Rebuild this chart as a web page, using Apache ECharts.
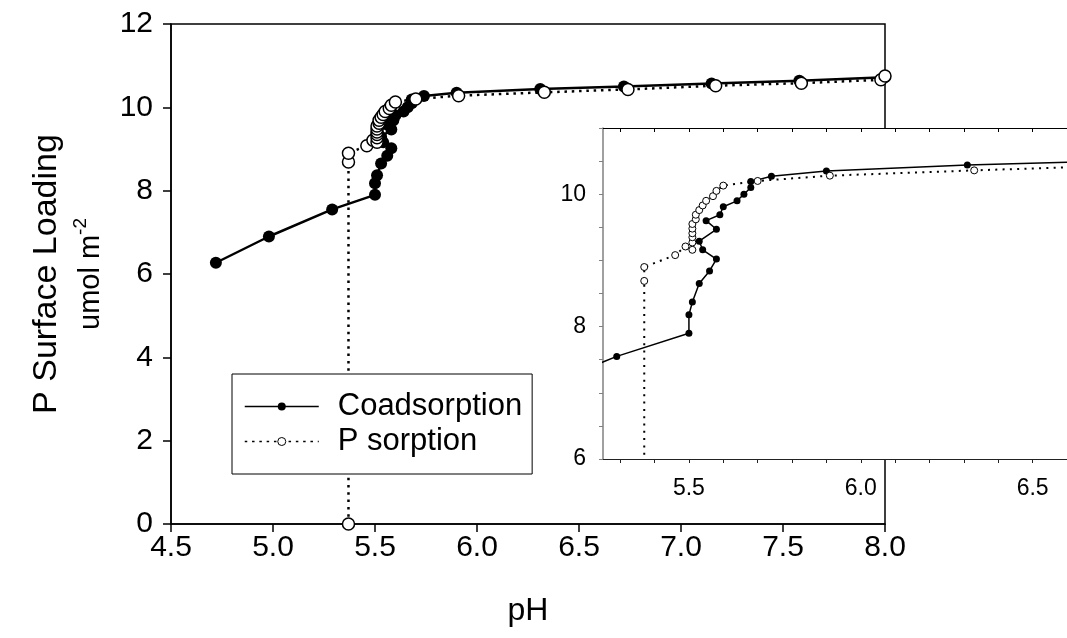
<!DOCTYPE html>
<html>
<head>
<meta charset="utf-8">
<script src="https://cdn.jsdelivr.net/npm/echarts@6/dist/echarts.min.js"></script>
<style>html,body{margin:0;padding:0;background:#fff;}#c{width:1067px;height:638px;}</style>
</head>
<body>
<div id="c"></div>
<script>
// Coadsorption (filled circles, solid line)
const coPH = [4.72, 4.98, 5.29, 5.50, 5.50, 5.51, 5.53, 5.56, 5.58, 5.54, 5.53, 5.58, 5.55, 5.59, 5.60, 5.64, 5.66, 5.68, 5.68, 5.74, 5.90, 6.31, 6.72, 7.15, 7.58, 8.00];
const coLoad = [6.27, 6.90, 7.55, 7.90, 8.18, 8.37, 8.65, 8.84, 9.02, 9.16, 9.29, 9.47, 9.60, 9.69, 9.81, 9.90, 10.00, 10.10, 10.19, 10.27, 10.35, 10.44, 10.50, 10.57, 10.64, 10.72];
// P sorption (open circles, dotted line)
const psPH = [5.37, 5.37, 5.37, 5.46, 5.49, 5.51, 5.51, 5.51, 5.51, 5.51, 5.51, 5.52, 5.52, 5.53, 5.54, 5.55, 5.57, 5.58, 5.60, 5.70, 5.91, 6.33, 6.74, 7.17, 7.59, 7.98, 8.00];
const psLoad = [0, 8.69, 8.90, 9.08, 9.21, 9.16, 9.27, 9.35, 9.41, 9.48, 9.55, 9.62, 9.69, 9.76, 9.83, 9.90, 9.97, 10.05, 10.13, 10.20, 10.28, 10.36, 10.43, 10.52, 10.58, 10.66, 10.75];
// inset axis ticks / labels
const insetTicks = [5.3, 5.4, 5.5, 5.6, 5.7, 5.8, 5.9, 6.0, 6.1, 6.2, 6.3, 6.4, 6.5, 6.6];
const insetXLabels = [5.5, 6.0, 6.5];
const insetYLabels = [6, 8, 10];

const co = coPH.map((x, i) => [x, coLoad[i]]);
const ps = psPH.map((x, i) => [x, psLoad[i]]);

const FONT = 'Liberation Sans, Arial, sans-serif';
const chart = echarts.init(document.getElementById('c'));
chart.setOption({
  animation: false,
  backgroundColor: '#fff',
  textStyle: { fontFamily: FONT, color: '#000' },
  grid: [
    { left: 171, top: 24, width: 714, height: 500, show: true, borderColor: '#000', borderWidth: 1.5, backgroundColor: 'transparent', z: 0 },
    { left: 603, top: 128, width: 472, height: 331, show: true, borderWidth: 0, backgroundColor: '#fff', z: 3 }
  ],
  legend: {
    data: ['Coadsorption', 'P sorption'],
    orient: 'vertical', left: 232, top: 374,
    padding: [17, 10, 17, 12],
    itemGap: 4, itemWidth: 74, itemHeight: 10,
    backgroundColor: '#fff', borderColor: '#000', borderWidth: 1,
    textStyle: { fontFamily: FONT, fontSize: 31, color: '#000', lineHeight: 31, padding: [0, 0, 0, 14] },
    lineStyle: { width: 1.5 },
    itemStyle: { borderWidth: 1 },
    z: 8
  },
  xAxis: [
    { type: 'value', gridIndex: 0, min: 4.5, max: 8, interval: 0.5,
      name: 'pH', nameLocation: 'middle', nameGap: 71,
      nameTextStyle: { fontSize: 32, fontFamily: FONT, color: '#000' },
      axisLine: { lineStyle: { color: '#000', width: 1.5 } },
      axisTick: { length: 8, lineStyle: { color: '#000', width: 1.5 } },
      axisLabel: { fontSize: 30, color: '#000', margin: 9, formatter: v => v.toFixed(1) },
      splitLine: { show: false } },
    { type: 'value', gridIndex: 1, min: 5.25, max: 6.6, position: 'bottom', z: 4,
      axisLine: { onZero: false, lineStyle: { color: '#222', width: 1.2 } },
      axisTick: { customValues: insetTicks, length: 4, lineStyle: { color: '#222', width: 1 } },
      axisLabel: { customValues: insetXLabels, fontSize: 23, color: '#000', margin: 18, formatter: v => v.toFixed(1) },
      splitLine: { show: false } },
    { type: 'value', gridIndex: 1, min: 5.25, max: 6.6, position: 'top', z: 4,
      axisLine: { onZero: false, lineStyle: { color: '#000', width: 1.2 } },
      axisTick: { customValues: insetTicks, inside: true, length: 4, lineStyle: { color: '#000', width: 1 } },
      axisLabel: { show: false },
      splitLine: { show: false } }
  ],
  yAxis: [
    { type: 'value', gridIndex: 0, min: 0, max: 12, interval: 2,
      name: '{a|P Surface Loading}\n{b|umol m}{c|-2}', nameLocation: 'middle', nameGap: 66, nameRotate: 90,
      nameTextStyle: { align: 'center', rich: {
        a: { fontSize: 34, fontFamily: FONT, color: '#000', lineHeight: 48, align: 'center' },
        b: { fontSize: 29, fontFamily: FONT, color: '#000', lineHeight: 34, verticalAlign: 'bottom' },
        c: { fontSize: 19, fontFamily: FONT, color: '#000', lineHeight: 34, verticalAlign: 'top', padding: [0, 0, 15, 0] }
      } },
      axisLine: { lineStyle: { color: '#000', width: 1.5 } },
      axisTick: { length: 8, lineStyle: { color: '#000', width: 1.5 } },
      axisLabel: { fontSize: 30, color: '#000', margin: 18 },
      splitLine: { show: false } },
    { type: 'value', gridIndex: 1, min: 6, max: 11, interval: 0.5, z: 4,
      axisLine: { onZero: false, lineStyle: { color: '#808080', width: 1.5 } },
      axisTick: { length: 4, lineStyle: { color: '#808080', width: 1 } },
      axisLabel: { customValues: insetYLabels, fontSize: 23, color: '#000', margin: 17 },
      splitLine: { show: false } }
  ],
  series: [
    { name: 'Coadsorption', type: 'line', xAxisIndex: 0, yAxisIndex: 0, data: co, z: 2,
      symbol: 'circle', symbolSize: 12,
      itemStyle: { color: '#000' },
      lineStyle: { color: '#000', width: 2.5 } },
    { name: 'P sorption', type: 'line', xAxisIndex: 0, yAxisIndex: 0, data: ps, z: 2,
      symbol: 'circle', symbolSize: 12,
      itemStyle: { color: '#fff', borderColor: '#000', borderWidth: 1.5 },
      lineStyle: { color: '#000', width: 2.5, type: [2.5, 4.8] } },
    { name: 'Coadsorption', type: 'line', xAxisIndex: 1, yAxisIndex: 1, data: co, z: 5, clip: true,
      symbol: 'circle', symbolSize: 7,
      itemStyle: { color: '#000' },
      lineStyle: { color: '#000', width: 1.5 } },
    { name: 'P sorption', type: 'line', xAxisIndex: 1, yAxisIndex: 1, data: ps, z: 5, clip: true,
      symbol: 'circle', symbolSize: 7,
      itemStyle: { color: '#fff', borderColor: '#000', borderWidth: 1 },
      lineStyle: { color: '#000', width: 2, type: [2, 5.3] } }
  ]
});
</script>
</body>
</html>
